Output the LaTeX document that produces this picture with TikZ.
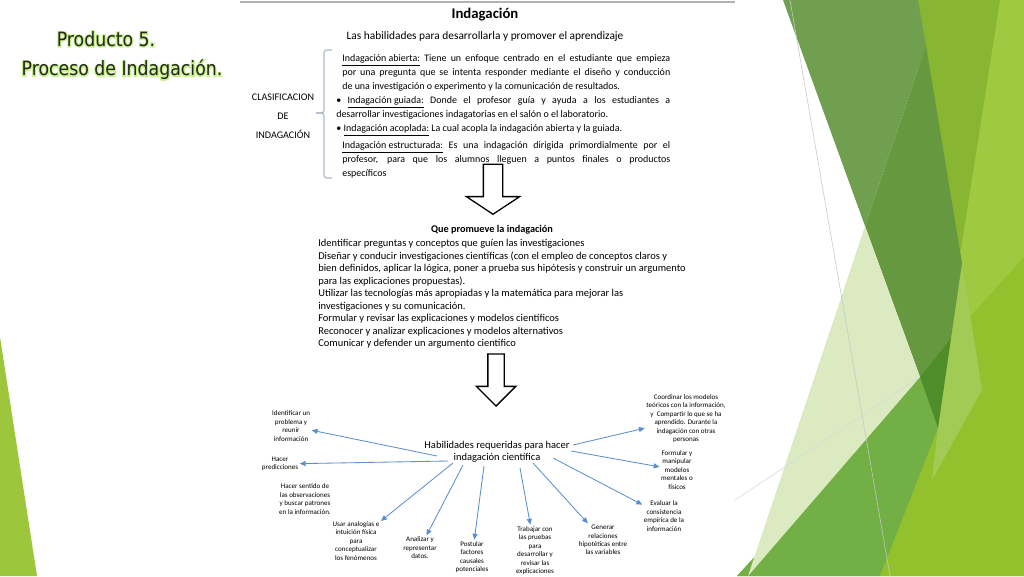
\documentclass[tikz,border=0pt]{standalone}
\usepackage{fontspec}
\setmainfont{Carlito}
\newfontfamily\titulofont{DejaVu Sans}[FakeStretch=0.88]
\newfontfamily\brillofont{DejaVu Sans}[FakeStretch=0.88, FakeBold=12]
\usetikzlibrary{positioning, shapes.arrows, arrows.meta}

\definecolor{azulflecha}{HTML}{5B8FD0}
\definecolor{grisllave}{HTML}{AAB8CA}
\definecolor{tinta}{HTML}{262626}
\definecolor{brillo}{HTML}{C8F28A}
\definecolor{verdeLat}{HTML}{9DC63C}
\definecolor{verdeFranja}{HTML}{9EC940}
\definecolor{franjaClara}{HTML}{A2CB56}
\definecolor{amarVerde}{HTML}{93C12D}
\definecolor{oliva}{HTML}{88B633}
\definecolor{verdeOscA}{HTML}{6F9F4F}
\definecolor{verdeOscB}{HTML}{66993F}
\definecolor{verdeProf}{HTML}{4E8D2A}
\definecolor{verdeMed}{HTML}{72AF44}
\definecolor{palido}{HTML}{DBEAC1}

\newcommand{\subr}[1]{\underline{#1}}

\begin{document}
\begin{tikzpicture}[x=0.25mm, y=-0.25mm,
  titulo/.style={font=\titulofont\fontsize{14}{16}\selectfont, text=tinta, inner sep=0pt},
  halo/.style={font=\brillofont\fontsize{14}{16}\selectfont, text=brillo, inner sep=0pt},
  caja/.style={inner sep=0pt, font=\fontsize{7.1}{10}\selectfont},
  hoja/.style={align=center, inner sep=1pt, font=\fontsize{5}{6}\selectfont},
  flecha/.style={draw=azulflecha, line width=0.6pt, -{Triangle[length=4.2pt, width=3.6pt]}},
  bloque/.style={single arrow, draw=black, line width=0.9pt, shape border rotate=270, fill=white}
]
\useasboundingbox (0,0) rectangle (1024,576);

% === FONDO ===
\fill[verdeLat] (0,337) -- (37,576) -- (0,576) -- cycle;
\fill[verdeFranja] (918,0) -- (1024,0) -- (1024,576) -- (737,576) -- (920,377) -- cycle;
\fill[amarVerde] (951,338) -- (1024,257) -- (1024,576) -- (880,576) -- (938,428) -- cycle;
\fill[verdeMed] (737,576) -- (920,377) -- (938,428) -- (880,576) -- cycle;
\fill[oliva] (918,0) -- (1000,0) -- (960,255) -- cycle;
\fill[franjaClara] (962,263) -- (982,390) -- (932,480) -- (938,428) -- cycle;
\fill[verdeOscA] (783,0) -- (918,0) -- (926,46) -- (865,226) -- cycle;
\fill[verdeOscB] (926,46) -- (962,263) -- (951,338) -- (920,377) -- (865,226) -- cycle;
\fill[verdeProf] (920,377) -- (951,338) -- (938,428) -- cycle;
\fill[palido] (865,226) -- (920,377) -- (748,576) -- cycle;
\draw[black!22, line width=0.4pt] (790,0) -- (890,576);
\draw[black!15, line width=0.4pt] (735,500) -- (920,377);
\draw[black!30, line width=2pt] (240,2) -- (735,2);

% === TITULOS ===
\node[halo] (haloA) at (106,39) {Producto 5.};
\node[halo] (haloB) at (122,70) {Proceso de Indagación.};
\node[titulo] (producto) at (106,39) {Producto 5.};
\node[titulo] (proceso) at (122,70) {Proceso de Indagación.};

% === INDAGACION ===
\node[font=\bfseries\fontsize{10.5}{12}\selectfont] (indag) at (485,15) {Indagación};
\node[font=\fontsize{8.1}{9}\selectfont, below=0.1mm of indag] (subtit) {Las habilidades para desarrollarla y promover el aprendizaje};

\node[align=center, font=\fontsize{7.2}{13.4}\selectfont] (clasif) at (283,116) {CLASIFICACION\\DE\\INDAGACIÓN};
\draw[grisllave, line width=0.8pt, rounded corners=2pt] (332,50) -| (324,113) -- (316,113);
\draw[grisllave, line width=0.8pt, rounded corners=2pt] (316,113) -- (324,113) |- (332,178);

\node[caja, anchor=north west, text width=83.5mm, align=justify] (tipos) at (336,54) {%
  {\leftskip=1.5mm \subr{Indagación abierta:} Tiene un enfoque centrado en el estudiante que empieza\linebreak
  por una pregunta que se intenta responder mediante el diseño y conducción\linebreak
  de una investigación o experimento y la comunicación de resultados.\par}
  \textbullet\ \subr{Indagación guiada:} Donde el profesor guía y ayuda a los estudiantes a\linebreak
  desarrollar investigaciones indagatorias en el salón o el laboratorio.\par
  \textbullet\ \subr{Indagación acoplada:} La cual acopla la indagación abierta y la guiada.\par
  \vspace{2pt}
  {\leftskip=1.5mm \subr{Indagación estructurada:} Es una indagación dirigida primordialmente por el\linebreak
  profesor, para que los alumnos lleguen a puntos finales o productos\linebreak
  específicos\par}};

\node[bloque, anchor=tip, minimum height=12.5mm, inner sep=2.25mm,
  single arrow head extend=4.25mm, single arrow tip angle=113] (baja1) at (493,215) {};

% === QUE PROMUEVE ===
\node[font=\bfseries\fontsize{7.3}{9}\selectfont] (promueve) at (492,230) {Que promueve la indagación};
\node[caja, anchor=north west, align=left, font=\fontsize{7.45}{8.9}\selectfont] (lista) at (318,239) {%
  Identificar preguntas y conceptos que guíen las investigaciones\\
  Diseñar y conducir investigaciones científicas (con el empleo de conceptos claros y\\
  bien definidos, aplicar la lógica, poner a prueba sus hipótesis y construir un argumento\\
  para las explicaciones propuestas).\\
  Utilizar las tecnologías más apropiadas y la matemática para mejorar las\\
  investigaciones y su comunicación.\\
  Formular y revisar las explicaciones y modelos científicos\\
  Reconocer y analizar explicaciones y modelos alternativos\\
  Comunicar y defender un argumento científico};

\node[bloque, anchor=tip, minimum height=13mm, inner sep=1.875mm,
  single arrow head extend=2.9mm, single arrow tip angle=90] (baja2) at (496,407) {};

% === HABILIDADES ===
\node[align=center, inner sep=0pt, font=\fontsize{7.45}{8.5}\selectfont] (hab) at (497,452)
  {Habilidades requeridas para hacer\\indagación científica};

\node[hoja] (ident) at (291,426) {Identificar un\\problema y\\reunir\\información};
\node[hoja] (predic) at (280,464) {Hacer\\predicciones};
\node[hoja] (sentido) at (305,499) {Hacer sentido de\\las observaciones\\y buscar patrones\\en la información.};
\node[hoja] (analog) at (356,541) {Usar analogías e\\intuición física\\para\\conceptualizar\\los fenómenos};
\node[hoja] (analiz) at (420,548) {Analizar y\\representar\\datos.};
\node[hoja] (postul) at (472,557) {Postular\\factores\\causales\\potenciales};
\node[hoja] (trabaj) at (535,550.5) {Trabajar con\\las pruebas\\para\\desarrollar y\\revisar las\\explicaciones};
\node[hoja] (generar) at (603,540) {Generar\\relaciones\\hipotéticas entre\\las variables};
\node[hoja] (evaluar) at (664,516) {Evaluar la\\consistencia\\empírica de la\\información};
\node[hoja] (formul) at (677,470) {Formular y\\manipular\\modelos\\mentales o\\físicos};
\node[hoja] (coord) at (686,418.5) {Coordinar los modelos\\teóricos con la información,\\y~ Compartir lo que se ha\\aprendido. Durante la\\indagación con otras\\personas};

\draw[flecha] ([shift={(-60,4)}]hab.center) -- (ident);
\draw[flecha] ([shift={(-49,9)}]hab.center) -- (predic);
\draw[flecha] ([shift={(-44,11)}]hab.center) -- (analog);
\draw[flecha] ([shift={(-34,13)}]hab.center) -- (analiz);
\draw[flecha] ([shift={(-13,14)}]hab.center) -- (postul);
\draw[flecha] ([shift={(23,16)}]hab.center) -- (trabaj);
\draw[flecha] ([shift={(36,11)}]hab.center) -- (generar);
\draw[flecha] ([shift={(56,6)}]hab.center) -- (evaluar);
\draw[flecha] ([shift={(74,-1)}]hab.center) -- (formul);
\draw[flecha] ([shift={(76,-7)}]hab.center) -- (coord);

\end{tikzpicture}
\end{document}
